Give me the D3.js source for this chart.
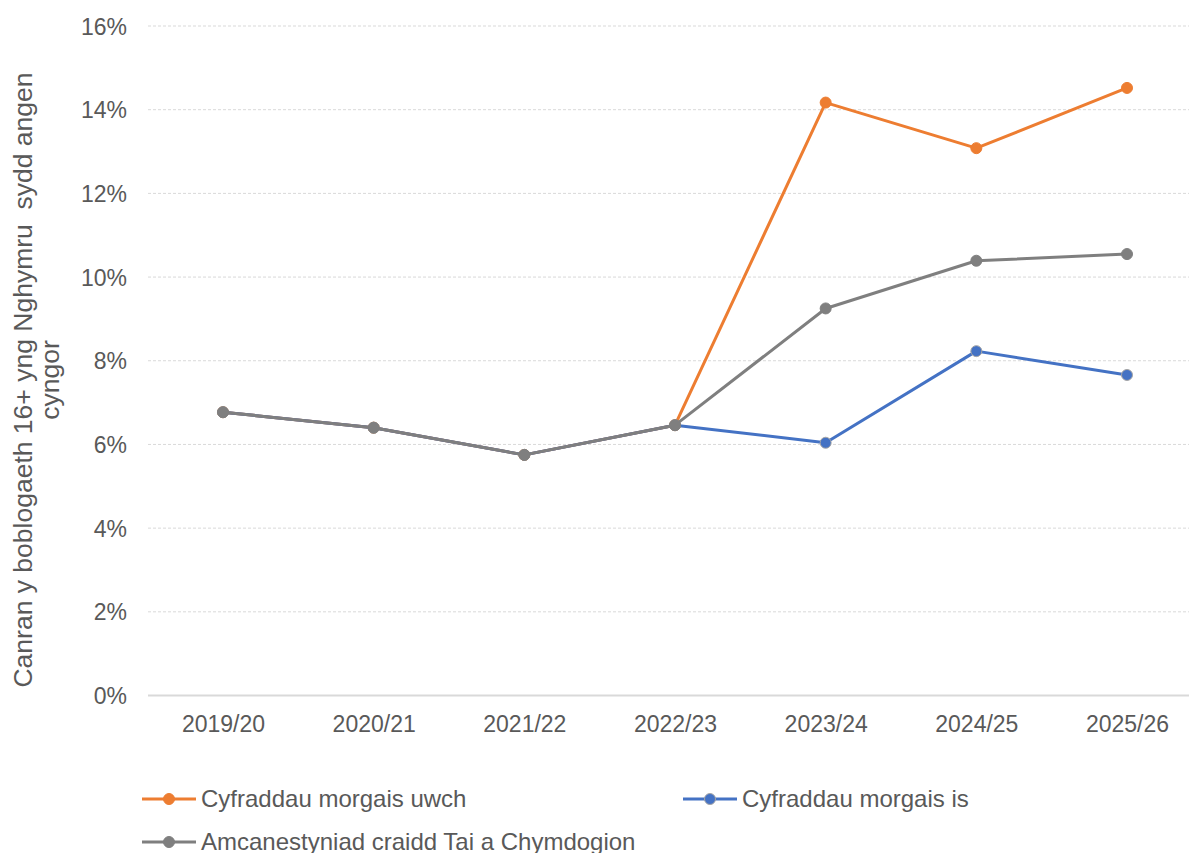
<!DOCTYPE html>
<html><head><meta charset="utf-8">
<script src="https://cdn.jsdelivr.net/npm/d3@7"></script>
<style>body{margin:0;background:#fff}svg{display:block;font-family:"Liberation Sans",Arial,sans-serif}</style>
</head><body><svg id="c" width="1189" height="853"></svg>
<script>
const categories = ["2019/20","2020/21","2021/22","2022/23","2023/24","2024/25","2025/26"];
const seriesNames = ["Cyfraddau morgais uwch","Cyfraddau morgais is","Amcanestyniad craidd Tai a Chymdogion"];
const higherRates = [6.77,6.40,5.75,6.46,14.17,13.08,14.52];
const lowerRates  = [6.77,6.40,5.75,6.46,6.04,8.23,7.66];
const coreProjection = [6.77,6.40,5.75,6.46,9.25,10.39,10.55];
const yTicks = [0,2,4,6,8,10,12,14,16];
const yTitleLines = ["Canran y boblogaeth 16+ yng Nghymru  sydd angen","cyngor"];

const svg = d3.select("#c");
const x = d3.scalePoint().domain(categories).range([223, 1127]);
const y = d3.scaleLinear().domain([0,16]).range([695.5, 26]);
const textCol = "#595959";

// gridlines
svg.append("g").selectAll("line").data(yTicks.filter(d=>d>0)).join("line")
  .attr("x1",148).attr("x2",1189).attr("y1",d=>y(d)).attr("y2",d=>y(d))
  .attr("stroke","#d9d9d9").attr("stroke-width",1).attr("stroke-dasharray","3,2");
// axis line
svg.append("line").attr("x1",148).attr("x2",1189).attr("y1",y(0)).attr("y2",y(0))
  .attr("stroke","#d9d9d9").attr("stroke-width",2);

// y axis labels
const yAxis = d3.axisLeft(y).tickValues(yTicks).tickFormat(d=>d+"%").tickSize(0).tickPadding(0);
const yg = svg.append("g").attr("transform","translate(127,0)").call(yAxis);
yg.select(".domain").remove();
yg.selectAll("text").attr("font-size",23).attr("fill",textCol).attr("dy","0.35em").attr("font-family","Liberation Sans, Arial, sans-serif");

// x axis labels
const xAxis = d3.axisBottom(x).tickSize(0).tickPadding(0);
const xg = svg.append("g").attr("transform","translate(0,716)").call(xAxis);
xg.select(".domain").remove();
xg.selectAll("text").attr("font-size",23).attr("fill",textCol).attr("dy","0.71em").attr("font-family","Liberation Sans, Arial, sans-serif");

// y title
const yt = svg.append("text").attr("transform","translate(0,380) rotate(-90)")
  .attr("text-anchor","middle").attr("font-size",26.5).attr("fill",textCol)
  .style("white-space","pre");
yTitleLines.forEach((t,i)=>yt.append("tspan").attr("x",0).attr("y",i===0?32:59).text(t));

const series = [
  {name:seriesNames[0], vals:higherRates, color:"#ED7D31", stroke:"#ED7D31"},
  {name:seriesNames[1], vals:lowerRates, color:"#4472C4", stroke:"#a5a5a5"},
  {name:seriesNames[2], vals:coreProjection, color:"#7F7F7F", stroke:"#7F7F7F"}
];
const line = d3.line().x((d,i)=>x(categories[i])).y(d=>y(d));
series.forEach(s=>{
  svg.append("path").attr("d",line(s.vals)).attr("fill","none").attr("stroke",s.color)
    .attr("stroke-width",3).attr("stroke-linejoin","round");
  svg.append("g").selectAll("circle").data(s.vals).join("circle")
    .attr("cx",(d,i)=>x(categories[i])).attr("cy",d=>y(d)).attr("r",5.5)
    .attr("fill",s.color).attr("stroke",s.stroke).attr("stroke-width",1);
});

// legend
const legendPos = [{x:142,y:799},{x:683,y:799},{x:142,y:842}];
series.forEach((s,i)=>{
  const p = legendPos[i];
  const g = svg.append("g").attr("transform",`translate(${p.x},${p.y})`);
  g.append("line").attr("x1",0).attr("x2",54).attr("y1",0).attr("y2",0).attr("stroke",s.color).attr("stroke-width",3);
  g.append("circle").attr("cx",27).attr("cy",0).attr("r",5.5).attr("fill",s.color).attr("stroke",s.stroke).attr("stroke-width",1);
  g.append("text").attr("x",59).attr("y",0).attr("dy","0.35em").attr("font-size",24).attr("fill",textCol).text(s.name);
});
</script></body></html>
